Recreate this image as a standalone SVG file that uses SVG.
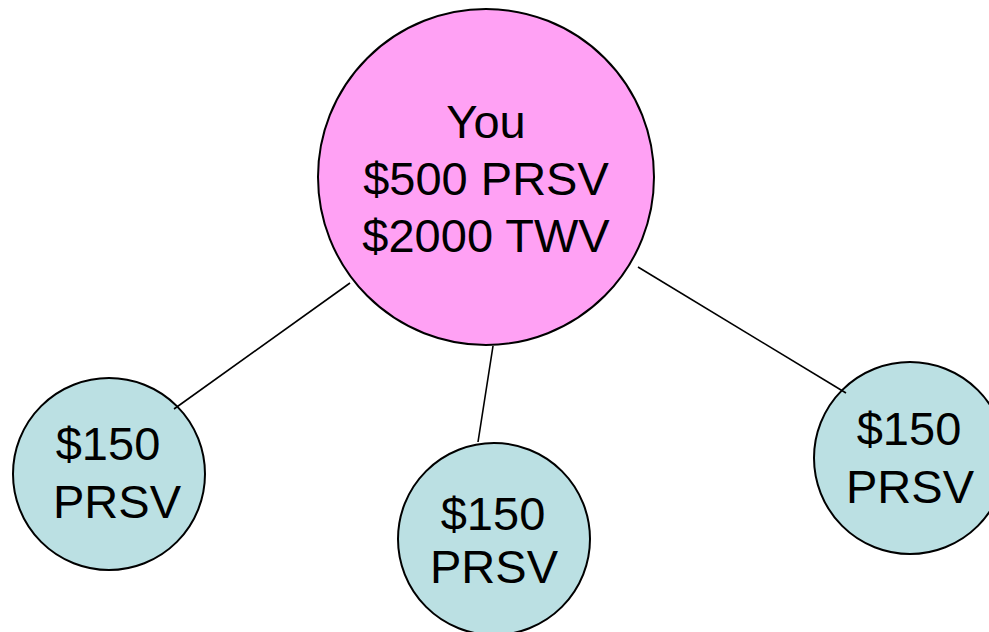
<svg xmlns="http://www.w3.org/2000/svg" width="989" height="632" viewBox="0 0 989 632">
  <style>
    .node { stroke: #000; stroke-width: 2; }
    .root { fill: #FFA1F4; }
    .leaf { fill: #BBE0E3; }
    .edge { stroke: #000; stroke-width: 1.6; fill: none; }
    text { font-family: "Liberation Sans", Arial, sans-serif; font-size: 47px; fill: #000; text-anchor: middle; }
  </style>
  <rect width="989" height="632" fill="#fff"/>

  <g id="node-you">
    <circle class="node root" cx="486" cy="177" r="168"/>
    <text x="486" y="138">You</text>
    <text x="486" y="195">$500 PRSV</text>
    <text x="486" y="252">$2000 TWV</text>
  </g>

  <g id="node-left">
    <circle class="node leaf" cx="109" cy="474" r="96"/>
    <text x="108" y="460">$150</text>
    <text x="117" y="518">PRSV</text>
  </g>

  <g id="node-middle">
    <circle class="node leaf" cx="494" cy="539" r="96"/>
    <text x="493" y="530">$150</text>
    <text x="494" y="583">PRSV</text>
  </g>

  <g id="node-right">
    <circle class="node leaf" cx="910" cy="458" r="96"/>
    <text x="909" y="445">$150</text>
    <text x="910" y="503">PRSV</text>
  </g>

  <g id="connectors">
    <line class="edge" x1="350" y1="283" x2="174" y2="409"/>
    <line class="edge" x1="493" y1="346" x2="478" y2="442"/>
    <line class="edge" x1="638" y1="267" x2="846" y2="393"/>
  </g>
</svg>
